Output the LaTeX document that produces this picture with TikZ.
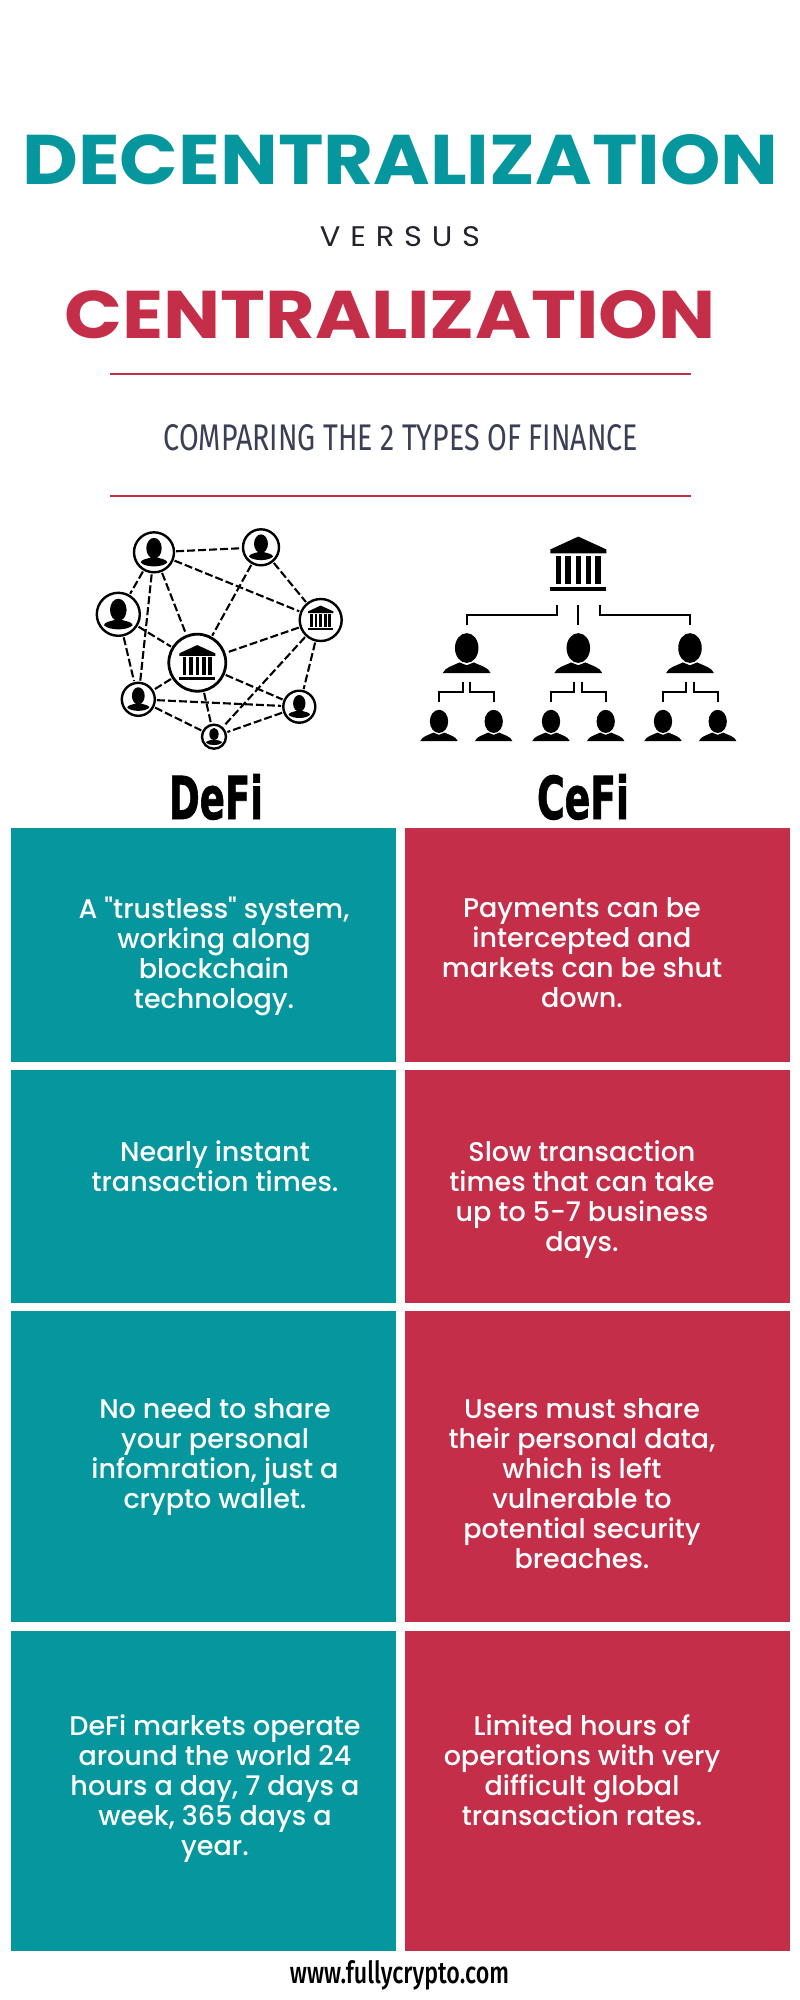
\documentclass[tikz,border=0pt]{standalone}
\usepackage{fontspec}
\usepackage{graphicx}
\setmainfont{Poppins}
\newfontfamily\titlef{Poppins}[UprightFont=* Bold]
\newfontfamily\bodyf{Poppins}[UprightFont=* Medium]
\newfontfamily\versusf{Poppins}
\newfontfamily\narrowf{Fira Sans}
\newfontfamily\heavyf{DejaVu Sans}[UprightFont=* Bold,FakeBold=1.5]
\newfontfamily\urlf{Fira Sans}[UprightFont=* Medium]
\definecolor{teal1}{HTML}{05979D}
\definecolor{crim1}{HTML}{C42E49}
\definecolor{dark1}{HTML}{22232D}
\definecolor{slate1}{HTML}{3A3F55}
\tikzset{
  card/.style={rectangle,draw=none,inner sep=0pt,anchor=north west},
  tealcard/.style={card,fill=teal1},
  crimcard/.style={card,fill=crim1},
  bodytext/.style={inner sep=0pt,align=center,text=white,anchor=base,font=\bodyf\fontsize{27}{30}\selectfont},
  fit text/.style={inner sep=0pt,anchor=base},
  netnode/.style={circle,draw=black,fill=white,line width=2.4pt,inner sep=0pt},
  netedge/.style={draw=black,line width=2.1pt,dash pattern=on 8pt off 3pt},
  conn/.style={draw=black,line width=2pt},
  iconbox/.style={rectangle,draw=none,inner sep=0pt},
  rule1/.style={draw=crim1,line width=2.6pt},
  persona/.pic={
    \fill[black] (0,-0.22) ellipse[x radius=0.49,y radius=0.62];
    \fill[black] (-1,0.83) .. controls (-0.9,0.58) and (-0.6,0.53) .. (-0.3,0.38) -- (0,0.5) -- (0.3,0.38) .. controls (0.6,0.53) and (0.9,0.58) .. (1,0.83) -- cycle;
  },
  netperson/.pic={
    \fill[black] (0,-0.38) ellipse[x radius=0.58,y radius=0.78];
    \fill[black] (-1,0.7) .. controls (-1,0.45) and (-0.5,0.42) .. (-0.25,0.32) -- (0.25,0.32) .. controls (0.5,0.42) and (1,0.45) .. (1,0.7) .. controls (0.6,1.08) and (-0.6,1.08) .. cycle;
  },
  bank/.pic={
    \fill[black] (0,-0.98) -- (1,-0.52) -- (1,-0.38) -- (-1,-0.38) -- (-1,-0.52) -- cycle;
    \foreach \cx in {-0.71,-0.36,0,0.36,0.71}{
      \fill[black] (\cx-0.1,-0.29) rectangle (\cx+0.1,0.71);
    }
    \fill[black] (-1,0.81) rectangle (1,0.98);
  },
}
\begin{document}
\begin{tikzpicture}[x=1pt,y=-1pt]
\useasboundingbox (0,0) rectangle (800,2000);
\fill[white] (0,0) rectangle (800,2000);

% headings
\node[fit text,text=teal1] (title1) at (400.5,184) {\resizebox{756pt}{50pt}{\titlef DECENTRALIZATION}};
\node[fit text,text=dark1] (versus) at (400,246) {\resizebox{160pt}{20pt}{\versusf V\kern.32em E\kern.32em R\kern.32em S\kern.32em U\kern.32em S}};
\node[fit text,text=crim1] (title2) at (390,338) {\resizebox{651pt}{48pt}{\titlef CENTRALIZATION}};
\draw[rule1] (110,374) -- (691,374);
\node[fit text,text=slate1] (sub) at (401,450) {\resizebox{474pt}{26pt}{\narrowf COMPARING THE 2 TYPES OF FINANCE}};
\draw[rule1] (110,496) -- (691,496);

% network icon
\node[netnode,minimum size=40pt] (u1) at (154,552.3) {};
\node[netnode,minimum size=36pt] (u2) at (261,547.3) {};
\node[netnode,minimum size=43pt] (u3) at (118.3,614.3) {};
\node[netnode,minimum size=42pt] (b2) at (320.7,620) {};
\node[netnode,minimum size=57pt,line width=2.8pt] (bc) at (197.3,662.7) {};
\node[netnode,minimum size=33pt] (u4) at (138.3,699.3) {};
\node[netnode,minimum size=32pt] (u5) at (299.3,706.7) {};
\node[netnode,minimum size=24pt] (u6) at (214,736.7) {};
\foreach \a/\b in {u1/u2,u1/b2,u1/u3,u1/u4,u1/bc,u2/bc,u2/b2,u3/bc,u3/u4,b2/bc,b2/u5,b2/u6,bc/u4,bc/u5,bc/u6,u4/u5,u4/u6,u5/u6}{
  \draw[netedge,shorten <=1pt,shorten >=1pt] (\a) -- (\b);
}
\path (154,553.3) pic[scale=13.3] {netperson};
\path (261,548.3) pic[scale=12] {netperson};
\path (118.3,615.3) pic[scale=14.3] {netperson};
\path (138.3,700) pic[scale=11] {netperson};
\path (299.3,707.4) pic[scale=10.7] {netperson};
\path (214,737.2) pic[scale=8] {netperson};
\path (320.7,618) pic[scale=12.7] {bank};
\path (197.3,662.7) pic[scale=18] {bank};

% hierarchy icon
\node[iconbox,minimum width=56pt,minimum height=55pt] (bankC) at (578.3,564) {};
\path (578.3,564) pic[scale=28] {bank};
\foreach \n/\x in {P1/466.7,P2/578.3,P3/690}{
  \node[iconbox,minimum width=48pt,minimum height=40pt] (\n) at (\x,653.3) {};
  \path (\x,653.3) pic[scale=24] {persona};
}
\foreach \n/\x in {S1/439,S2/493.7,S3/551,S4/605.7,S5/663,S6/717.7}{
  \node[iconbox,minimum width=37.4pt,minimum height=31pt] (\n) at (\x,725.5) {};
  \path (\x,725.5) pic[scale=18.7] {persona};
}
\draw[conn] ([xshift=-21.6pt,yshift=-13.3pt]bankC.south) -- ++(0,10) -| ([yshift=8.3pt]P1.north);
\draw[conn] ([yshift=-13pt]bankC.south) -- ([yshift=8.3pt]P2.north);
\draw[conn] ([xshift=21.7pt,yshift=-13.3pt]bankC.south) -- ++(0,10) -| ([yshift=8.3pt]P3.north);
\foreach \p/\l/\r in {P1/S1/S2,P2/S3/S4,P3/S5/S6}{
  \draw[conn] ([xshift=-4pt,yshift=-8.4pt]\p.south) -- ++(0,10) -| ([yshift=7.7pt]\l.north);
  \draw[conn] ([xshift=3.5pt,yshift=-8.4pt]\p.south) -- ++(0,10) -| ([yshift=7.7pt]\r.north);
}

% column heads
\node[fit text] (defi) at (216,819) {\resizebox{94pt}{45pt}{\heavyf DeFi}};
\node[fit text] (cefi) at (583,819) {\resizebox{92pt}{45pt}{\heavyf CeFi}};

% cards
\foreach \n/\t/\h in {1/828/234,2/1070/233,3/1311/311,4/1631/320}{
  \node[tealcard,minimum width=384.5pt,minimum height=\h pt] (L\n) at (11,\t) {};
  \node[crimcard,minimum width=385pt,minimum height=\h pt] (R\n) at (405,\t) {};
}

\node[bodytext] (tL1) at (214,1008) {A "trustless" system,\\working along\\blockchain\\technology.};
\node[bodytext] (tR1) at (582,1007) {Payments can be\\intercepted and\\markets can be shut\\down.};
\node[bodytext] (tL2) at (215,1191) {Nearly instant\\transaction times.};
\node[bodytext] (tR2) at (582,1251) {Slow transaction\\times that can take\\up to 5-7 business\\days.};
\node[bodytext] (tL3) at (215,1508) {No need to share\\your personal\\infomration, just a\\crypto wallet.};
\node[bodytext] (tR3) at (582,1568) {Users must share\\their personal data,\\which is left\\vulnerable to\\potential security\\breaches.};
\node[bodytext] (tL4) at (215,1855) {DeFi markets operate\\around the world 24\\hours a day, 7 days a\\week, 365 days a\\year.};
\node[bodytext] (tR4) at (582,1825) {Limited hours of\\operations with very\\difficult global\\transaction rates.};

% footer
\node[fit text] (url) at (399.5,1983) {\resizebox{219pt}{23pt}{\urlf www.fullycrypto.com}};
\end{tikzpicture}
\end{document}
